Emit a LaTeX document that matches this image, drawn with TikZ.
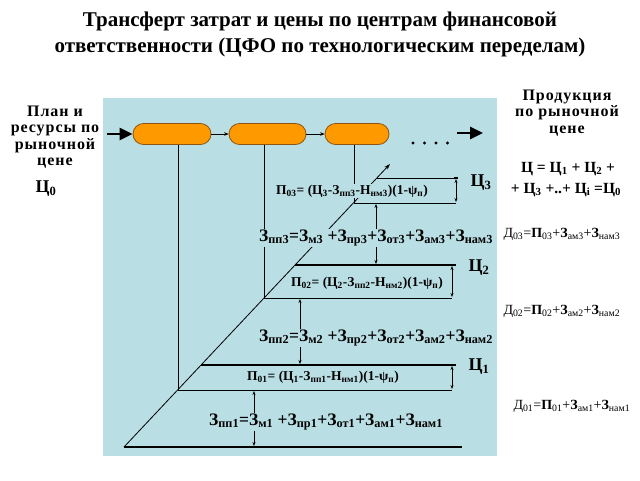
\documentclass[tikz,border=0pt]{standalone}
\usepackage{fontspec}
\setmainfont{Liberation Serif}
\newfontfamily\spacedserif[LetterSpace=6]{Liberation Serif}
\usetikzlibrary{arrows.meta,shapes.misc}
\definecolor{bgblue}{RGB}{185,222,228}
\definecolor{ovalfill}{RGB}{255,153,0}
\definecolor{ovaldraw}{RGB}{140,85,20}
\newcommand\sbt[1]{\textsubscript{#1}}
\begin{document}
\begin{tikzpicture}[x=1pt,y=-1pt,
  oval/.style={rounded rectangle,draw=ovaldraw,fill=ovalfill,line width=0.8pt,minimum height=21pt,inner sep=0pt},
  bigarrow/.style={line width=2.6pt,-{Triangle[length=13pt,width=12pt]}},
  smallarrow/.style={line width=0.6pt,-{Stealth[length=4.5pt,width=3.5pt]}},
  dblarrow/.style={line width=0.7pt,{Stealth[length=4pt,width=3pt]}-{Stealth[length=4pt,width=3pt]}},
  thinline/.style={line width=0.8pt},
  thickline/.style={line width=2.2pt},
  pform/.style={font=\fontsize{13.5}{15}\selectfont\bfseries,fill=bgblue,inner sep=1pt},
  zform/.style={font=\fontsize{17.5}{20}\selectfont\bfseries,fill=bgblue,inner sep=1pt,anchor=west},
  clabel/.style={font=\fontsize{18}{20}\selectfont\bfseries},
  sumtext/.style={font=\fontsize{15.5}{18}\selectfont\bfseries},
  sidetext/.style={font=\spacedserif\fontsize{16}{16.5}\selectfont\bfseries,align=center},
  dform/.style={font=\fontsize{14}{16}\selectfont,anchor=west}
]
\useasboundingbox (0,0) rectangle (640,480);
% background
\fill[bgblue] (103,98) rectangle (497,456);
% title
\node[font=\fontsize{21}{26}\selectfont\bfseries,align=center] (title) at (320,34)
  {Трансферт затрат и цены по центрам финансовой\\ответственности (ЦФО по технологическим переделам)};
% ovals
\node[oval,minimum width=78pt] (o1) at (172,134) {};
\node[oval,minimum width=77pt] (o2) at (267.5,134) {};
\node[oval,minimum width=64pt] (o3) at (357,134) {};
\coordinate (inS) at (107,134);
\draw[bigarrow] (inS) -- (o1.west);
\draw[smallarrow] (o1.east) -- (o2.west);
\draw[smallarrow] (o2.east) -- (o3.west);
\foreach \i/\xx in {1/413,2/424.5,3/436,4/447.5}
  \fill (\xx,143) circle (1.6pt);
\coordinate (outA) at (457,133);
\coordinate (outB) at (483,133);
\draw[bigarrow] (outA) -- (outB);
% diagonal and named points
\coordinate (dA) at (124,447);
\coordinate (dB) at (390,164);
\coordinate (t3L) at (377,178);  \coordinate (t3R) at (458,178);
\coordinate (b3L) at (354,203);  \coordinate (b3R) at (456,203);
\coordinate (t2L) at (295,265);  \coordinate (t2R) at (456,265);
\coordinate (b2L) at (264,298);  \coordinate (b2R) at (452,298);
\coordinate (t1L) at (201,365);  \coordinate (t1R) at (456,365);
\coordinate (b1L) at (178,390);  \coordinate (b1R) at (452,390);
\coordinate (baseR) at (462,447);
% verticals from ovals
\draw[thinline] (o1.south -| b1L) -- (b1L);
\draw[thinline] (o2.south -| b2L) -- (b2L);
\draw[thinline] (o3.south -| b3L) -- (b3L);
% diagonal
\draw[line width=0.8pt,-{Stealth[length=6pt,width=4pt]}] (dA) -- (dB);
% level lines
\draw[thinline] (t3L) -- (t3R);
\draw[line width=2.6pt] (454,178) -- (t3R);
\draw[thinline] (b3L) -- (b3R);
\draw[thickline] (t2L) -- (t2R);
\draw[thinline] (b2L) -- (b2R);
\draw[thickline] (t1L) -- (t1R);
\draw[thinline] (b1L) -- (b1R);
\draw[thickline] (dA) -- (baseR);
% right double arrows
\draw[dblarrow] (456,179) -- (456,202);
\draw[dblarrow] (452,266) -- (452,297);
\draw[dblarrow] (452,366) -- (452,389);
% middle double arrows
\draw[dblarrow] (376,204) -- (376,264);
\draw[dblarrow] (300,299) -- (300,364);
\draw[dblarrow] (254,391) -- (254,446);
% formulas
\node[pform] (p3) at (352,191) {П\sbt{03}= (Ц\sbt{3}-З\sbt{пп3}-Н\sbt{нм3})(1-ψ\sbt{п})};
\node[zform] (z3) at (258,238) {З\sbt{пп3}=З\sbt{м3} +З\sbt{пр3}+З\sbt{от3}+З\sbt{ам3}+З\sbt{нам3}};
\node[pform] (p2) at (367,283) {П\sbt{02}= (Ц\sbt{2}-З\sbt{пп2}-Н\sbt{нм2})(1-ψ\sbt{п})};
\node[zform] (z2) at (258,338) {З\sbt{пп2}=З\sbt{м2} +З\sbt{пр2}+З\sbt{от2}+З\sbt{ам2}+З\sbt{нам2}};
\node[pform] (p1) at (323,377) {П\sbt{01}= (Ц\sbt{1}-З\sbt{пп1}-Н\sbt{нм1})(1-ψ\sbt{п})};
\node[zform] (z1) at (208,422) {З\sbt{пп1}=З\sbt{м1} +З\sbt{пр1}+З\sbt{от1}+З\sbt{ам1}+З\sbt{нам1}};
% price labels
\node[clabel] (c3) at (481,183) {Ц\sbt{3}};
\node[clabel] (c2) at (479,268) {Ц\sbt{2}};
\node[clabel] (c1) at (479,367) {Ц\sbt{1}};
% left texts
\node[sidetext] (plan) at (55,137) {План и\\ресурсы по\\рыночной\\цене};
\node[clabel] (c0) at (46,189) {Ц\sbt{0}};
% right texts
\node[sidetext] (prod) at (567,113) {Продукция\\по рыночной\\цене};
\node[sumtext] (sum1) at (568,169) {Ц = Ц\sbt{1} + Ц\sbt{2} +};
\node[sumtext] (sum2) at (566,190) {+ Ц\sbt{3} +..+ Ц\sbt{i} =Ц\sbt{0}};
\node[dform] (d3) at (500,234) {Д\sbt{03}=\textbf{П}\sbt{03}+\textbf{З}\sbt{ам3}+\textbf{З}\sbt{нам3}};
\node[dform] (d2) at (500,311) {Д\sbt{02}=\textbf{П}\sbt{02}+\textbf{З}\sbt{ам2}+\textbf{З}\sbt{нам2}};
\node[dform] (d1) at (510,406) {Д\sbt{01}=\textbf{П}\sbt{01}+\textbf{З}\sbt{ам1}+\textbf{З}\sbt{нам1}};
\end{tikzpicture}
\end{document}
